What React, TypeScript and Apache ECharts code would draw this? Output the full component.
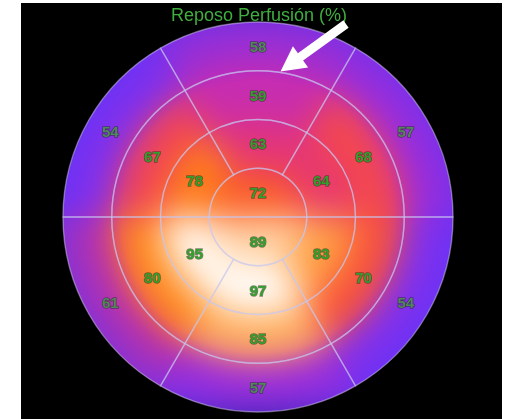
import React, { useEffect, useRef } from "react";
import * as echarts from "echarts";

const chartTitle = "Reposo Perfusión (%)";

// Sector order: centred at 30°, 90°, 150°, 210°, 270°, 330° (counter-clockwise from east)
const apexHalves = [72, 89]; // upper half, lower half
const apicalRing = [64, 63, 78, 95, 97, 83];
const midRing = [68, 59, 67, 80, 85, 70];
const basalRing = [57, 58, 54, 61, 57, 54];

const rings = [apexHalves, apicalRing, midRing, basalRing];

// Perfusion colour scale (low -> high)
const scaleMin = 50;
const scaleMax = 98;
const scaleColors = [
  "#5a38ff",
  "#b02ad8",
  "#e03084",
  "#f4484c",
  "#ff6616",
  "#ff8a1c",
  "#ffb468",
  "#ffeedd",
  "#ffffff",
];

// one data row per segment: [ring mid radius, mid angle, value, ring, span]
const segmentData = rings.flatMap((vals, ring) =>
  vals.map((v, i) => {
    const span = 360 / vals.length;
    return [ring + 0.5, (i + 0.5) * span, v, ring, span];
  })
);

const CENTER: [number, number] = [258, 217];
const RADIUS = 195;

const polarBase = {
  polar: { center: CENTER, radius: RADIUS },
  angleAxis: { type: "value", min: 0, max: 360, startAngle: 0, clockwise: false, show: false },
  radiusAxis: { type: "value", min: 0, max: 4, show: false },
};

function sectorShape(api: any, extendOuter: boolean) {
  const c = api.coord([0, 0]);
  const rMid = api.value(0);
  const aMid = api.value(1);
  const ring = api.value(3);
  const span = api.value(4);
  const dist = (rv: number) => {
    const p = api.coord([rv, aMid]);
    return Math.hypot(p[0] - c[0], p[1] - c[1]);
  };
  const a0 = aMid - span / 2;
  const p0 = api.coord([rMid, a0]);
  const start = Math.atan2(p0[1] - c[1], p0[0] - c[0]);
  let rOut = dist(rMid + 0.5);
  if (extendOuter && ring === rings.length - 1) rOut *= 1.3;
  return {
    cx: c[0],
    cy: c[1],
    r0: dist(rMid - 0.5),
    r: rOut,
    startAngle: start,
    endAngle: start - (span * Math.PI) / 180,
    clockwise: false,
  };
}

export default function App() {
  const heatRef = useRef<HTMLDivElement>(null);
  const overlayRef = useRef<HTMLDivElement>(null);

  useEffect(() => {
    if (!heatRef.current || !overlayRef.current) return;
    const heat = echarts.init(heatRef.current, null, { renderer: "svg" });
    const overlay = echarts.init(overlayRef.current, null, { renderer: "svg" });

    heat.setOption({
      animation: false,
      ...polarBase,
      visualMap: {
        show: false,
        type: "continuous",
        dimension: 2,
        min: scaleMin,
        max: scaleMax,
        inRange: { color: scaleColors },
      },
      series: [
        {
          type: "custom",
          coordinateSystem: "polar",
          encode: { radius: 0, angle: 1 },
          data: segmentData,
          renderItem: (_params: any, api: any) => ({
            type: "sector",
            shape: sectorShape(api, true),
            style: { fill: api.visual("color"), stroke: api.visual("color"), lineWidth: 1 },
          }),
        },
      ],
    });

    overlay.setOption({
      animation: false,
      ...polarBase,
      graphic: [
        {
          // bluish shading toward the rim of the polar map
          type: "circle",
          shape: { cx: CENTER[0], cy: CENTER[1], r: RADIUS },
          style: {
            fill: {
              type: "radial",
              x: 0.5,
              y: 0.5,
              r: 0.5,
              colorStops: [
                { offset: 0, color: "rgba(84,52,255,0)" },
                { offset: 0.7, color: "rgba(84,52,255,0)" },
                { offset: 1, color: "rgba(84,52,255,0.55)" },
              ],
            },
          },
          z: -1,
        },
        {
          type: "text",
          x: 259,
          y: 15,
          style: {
            text: chartTitle,
            fill: "#3fae3f",
            font: "18px 'Liberation Sans', Arial, sans-serif",
            textAlign: "center",
            textVerticalAlign: "middle",
          },
        },
        {
          type: "polygon",
          shape: {
            points: [
              [343.4, 20.3],
              [297.9, 53.3],
              [292.9, 46.3],
              [280.5, 71.5],
              [308.1, 67.5],
              [303.1, 60.6],
              [348.6, 27.7],
            ],
          },
          style: { fill: "#ffffff" },
          z: 10,
        },
      ],
      series: [
        {
          type: "custom",
          coordinateSystem: "polar",
          encode: { radius: 0, angle: 1 },
          data: segmentData,
          renderItem: (_params: any, api: any) => {
            const pos = api.coord([api.value(0), api.value(1)]);
            const outer = api.value(3) === rings.length - 1;
            return {
              type: "group",
              children: [
                {
                  type: "sector",
                  shape: sectorShape(api, false),
                  style: { fill: "none", stroke: "rgba(200,200,240,0.5)", lineWidth: 1.4 },
                },
                {
                  type: "text",
                  x: pos[0],
                  y: pos[1],
                  style: {
                    text: String(api.value(2)),
                    fill: outer ? "#4f8a56" : "#32a02c",
                    stroke: "rgba(25,40,25,0.55)",
                    lineWidth: 1.4,
                    font: "bold 15px 'Liberation Sans', Arial, sans-serif",
                    textAlign: "center",
                    textVerticalAlign: "middle",
                  },
                },
              ],
            };
          },
        },
      ],
    });

    return () => {
      heat.dispose();
      overlay.dispose();
    };
  }, []);

  const full: React.CSSProperties = { position: "absolute", left: 0, top: 0, width: 508, height: 419 };
  return (
    <div style={{ ...full, background: "#ffffff", overflow: "hidden" }}>
      <div style={{ position: "absolute", left: 21, top: 3, width: 481, height: 416, background: "#000" }} />
      <div
        ref={heatRef}
        style={{
          ...full,
          filter: "blur(17px)",
          clipPath: `circle(${RADIUS}px at ${CENTER[0]}px ${CENTER[1]}px)`,
        }}
      />
      <div ref={overlayRef} style={{ ...full, filter: "blur(0.4px)" }} />
    </div>
  );
}
